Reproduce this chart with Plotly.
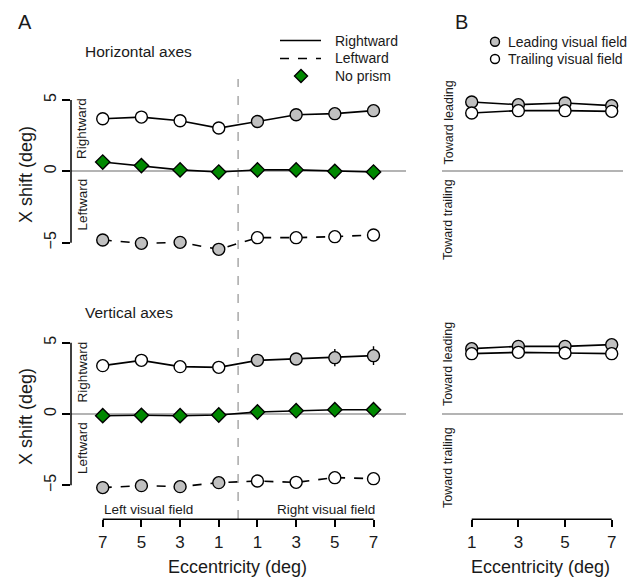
import plotly.graph_objects as go

# ---- data ---------------------------------------------------------------
ecc_positions = [0, 1, 2, 3, 4, 5, 6, 7]
ecc_labels = ["7", "5", "3", "1", "1", "3", "5", "7"]
field_fill = ["white"] * 4 + ["#c0c0c0"] * 4          # rightward prism: left field trailing, right field leading
field_fill_left = ["#c0c0c0"] * 4 + ["white"] * 4     # leftward prism: left field leading

h_rightward = [3.68, 3.80, 3.54, 3.03, 3.49, 3.96, 4.04, 4.25]
h_leftward = [-4.81, -5.05, -4.98, -5.47, -4.65, -4.65, -4.58, -4.46]
h_noprism = [0.65, 0.40, 0.10, -0.05, 0.10, 0.10, 0.00, -0.05]

v_rightward = [3.39, 3.76, 3.32, 3.27, 3.76, 3.86, 3.95, 4.09]
v_rightward_err = [0.30, 0.30, 0.30, 0.30, 0.35, 0.35, 0.60, 0.65]
v_leftward = [-5.16, -5.02, -5.09, -4.81, -4.70, -4.79, -4.46, -4.53]
v_noprism = [-0.12, -0.09, -0.12, -0.07, 0.14, 0.23, 0.30, 0.30]

ecc_b = [1, 3, 5, 7]
h_leading = [4.86, 4.67, 4.79, 4.60]
h_trailing = [4.09, 4.25, 4.25, 4.20]
v_leading = [4.58, 4.74, 4.74, 4.86]
v_trailing = [4.23, 4.32, 4.28, 4.23]

y_ticks = [-5, 0, 5]
y_ticktext = ["\u22125", "0", "5"]

# ---- styling ------------------------------------------------------------
W, H = 636, 580
FONT = "Liberation Sans, Arial, Helvetica, sans-serif"
INK = "#1a1a1a"
GRAY = "#c0c0c0"
GREEN = "#008800"
ZERO = "#b4b4b4"


def px(x, y):
    return x / W, 1 - y / H


def dom_x(a, b):
    return [a / W, b / W]


def dom_y(top, bottom):
    return [1 - bottom / H, 1 - top / H]


fig = go.Figure()


def series(x, y, fills, dash, xa, ya, symbol="circle", size=12, err=None):
    tr = dict(
        x=x, y=y, mode="lines+markers", xaxis=xa, yaxis=ya, showlegend=False,
        line=dict(color="black", width=1.6, dash=dash),
        marker=dict(symbol=symbol, size=size, color=fills,
                    line=dict(color="black", width=1.4)),
        cliponaxis=False, hoverinfo="skip",
    )
    if err is not None:
        tr["error_y"] = dict(type="data", array=err, visible=True,
                             color="black", thickness=1.4, width=0)
    fig.add_trace(go.Scatter(**tr))


# Panel A, horizontal axes
series(ecc_positions, h_rightward, field_fill, "solid", "x", "y")
series(ecc_positions, h_leftward, field_fill_left, "dash", "x", "y")
series(ecc_positions, h_noprism, GREEN, "solid", "x", "y", symbol="diamond", size=11)

# Panel A, vertical axes
series(ecc_positions, v_rightward, field_fill, "solid", "x2", "y2", err=v_rightward_err)
series(ecc_positions, v_leftward, field_fill_left, "dash", "x2", "y2")
series(ecc_positions, v_noprism, GREEN, "solid", "x2", "y2", symbol="diamond", size=11)

# Panel B
series(ecc_b, h_leading, GRAY, "solid", "x3", "y3")
series(ecc_b, h_trailing, "white", "solid", "x3", "y3")
series(ecc_b, v_leading, GRAY, "solid", "x4", "y4")
series(ecc_b, v_trailing, "white", "solid", "x4", "y4")

# Legend keys drawn on an overlay axis in pixel units
fig.add_trace(go.Scatter(
    x=[301], y=[76], mode="markers", xaxis="x5", yaxis="y5", showlegend=False,
    marker=dict(symbol="diamond", size=10, color=GREEN, line=dict(color="black", width=1.4)),
    hoverinfo="skip", cliponaxis=False))
fig.add_trace(go.Scatter(
    x=[495, 495], y=[41.7, 59], mode="markers", xaxis="x5", yaxis="y5", showlegend=False,
    marker=dict(symbol="circle", size=9, color=[GRAY, "white"], line=dict(color="black", width=1.4)),
    hoverinfo="skip", cliponaxis=False))

# ---- axes ---------------------------------------------------------------
left_x = dom_x(71, 406)
left_range = [-0.82, 7.84]
b_x = dom_x(441.7, 623.3)
b_range = [-0.286, 7.497]
top_y = dom_y(60, 255)
top_range = [-5.865, 7.80]
bot_y = dom_y(300, 519.3)
bot_range = [-7.38, 7.99]

hidden = dict(showgrid=False, showline=False, showticklabels=False, ticks="", zeroline=False)
yleft = dict(showgrid=False, showline=False, tickvals=y_ticks, ticktext=y_ticktext,
             ticks="outside", ticklen=8, tickwidth=1.5, tickcolor="black",
             tickangle=-90, ticklabelstandoff=0,
             tickfont=dict(family=FONT, size=16, color=INK),
             zeroline=True, zerolinecolor=ZERO, zerolinewidth=1.6)
yb = dict(showgrid=False, showline=False, showticklabels=False, ticks="",
          zeroline=True, zerolinecolor=ZERO, zerolinewidth=1.6)
xticks = dict(showgrid=False, showline=False, zeroline=False, ticks="outside",
              ticklen=7, tickwidth=1.5, tickcolor="black",
              tickfont=dict(family=FONT, size=17, color=INK))

fig.update_layout(
    width=W, height=H, margin=dict(l=0, r=0, t=0, b=0),
    paper_bgcolor="white", plot_bgcolor="rgba(0,0,0,0)",
    font=dict(family=FONT, color=INK),
    xaxis=dict(domain=left_x, range=left_range, anchor="y", **hidden),
    yaxis=dict(domain=top_y, range=top_range, anchor="x", **yleft),
    xaxis2=dict(domain=left_x, range=left_range, anchor="y2",
                tickvals=ecc_positions, ticktext=ecc_labels, **xticks),
    yaxis2=dict(domain=bot_y, range=bot_range, anchor="x2", **yleft),
    xaxis3=dict(domain=b_x, range=b_range, anchor="y3", **hidden),
    yaxis3=dict(domain=top_y, range=top_range, anchor="x3", **yb),
    xaxis4=dict(domain=b_x, range=b_range, anchor="y4",
                tickvals=ecc_b, ticktext=[str(v) for v in ecc_b], **xticks),
    yaxis4=dict(domain=bot_y, range=bot_range, anchor="x4", **yb),
    xaxis5=dict(domain=[0, 1], range=[0, W], anchor="y5", **hidden),
    yaxis5=dict(domain=[0, 1], range=[H, 0], anchor="x5", **hidden),
)

# ---- spines and dividers ------------------------------------------------
shapes = [
    dict(type="line", xref="x domain", x0=0, x1=0, yref="y", y0=-5, y1=5,
         line=dict(color="black", width=1.5)),
    dict(type="line", xref="x2 domain", x0=0, x1=0, yref="y2", y0=-5, y1=5,
         line=dict(color="black", width=1.5)),
    dict(type="line", xref="x2", x0=ecc_positions[0], x1=ecc_positions[-1],
         yref="y2 domain", y0=0, y1=0, line=dict(color="black", width=1.5)),
    dict(type="line", xref="x4", x0=ecc_b[0], x1=ecc_b[-1],
         yref="y4 domain", y0=0, y1=0, line=dict(color="black", width=1.5)),
    # boundary between left and right visual field
    dict(type="line", xref="x", x0=3.5, x1=3.5, yref="paper",
         y0=px(0, 519)[1], y1=px(0, 79)[1],
         line=dict(color="#a8a8a8", width=1.5, dash="dash"), layer="below"),
    # legend line keys
    dict(type="line", xref="paper", yref="paper", x0=px(280, 0)[0], x1=px(321, 0)[0],
         y0=px(0, 40.5)[1], y1=px(0, 40.5)[1], line=dict(color="black", width=1.6)),
    dict(type="line", xref="paper", yref="paper", x0=px(280, 0)[0], x1=px(321, 0)[0],
         y0=px(0, 58.5)[1], y1=px(0, 58.5)[1], line=dict(color="black", width=1.6, dash="dash")),
]
fig.update_layout(shapes=shapes)

# ---- text ---------------------------------------------------------------
def label(text, x, y, size, angle=0, xanchor="center"):
    ax, ay = px(x, y)
    fig.add_annotation(text=text, x=ax, y=ay, xref="paper", yref="paper",
                       showarrow=False, textangle=angle, xanchor=xanchor, yanchor="middle",
                       font=dict(family=FONT, size=size, color=INK))


label("A", 25, 22, 20)
label("B", 462, 22, 20)
label("Horizontal axes", 138, 52, 15.5)
label("Vertical axes", 129, 312, 15.5)

label("Rightward", 333, 40.7, 14, xanchor="left")
label("Leftward", 333, 58.3, 14, xanchor="left")
label("No prism", 333, 76, 14, xanchor="left")
label("Leading visual field", 506, 41.7, 14, xanchor="left")
label("Trailing visual field", 506, 59, 14, xanchor="left")

label("X shift (deg)", 26, 175, 18, angle=-90)
label("X shift (deg)", 26, 417, 18, angle=-90)
label("Rightward", 82, 129, 13.5, angle=-90)
label("Leftward", 82, 204.5, 13.5, angle=-90)
label("Rightward", 82, 372.5, 13.5, angle=-90)
label("Leftward", 82, 448, 13.5, angle=-90)

label("Toward leading", 448, 122.5, 12.5, angle=-90)
label("Toward trailing", 448, 219, 12.5, angle=-90)
label("Toward leading", 448, 364, 12.5, angle=-90)
label("Toward trailing", 448, 467, 12.5, angle=-90)

label("Left visual field", 148.5, 509, 13.5)
label("Right visual field", 325.5, 509, 13.5)

label("Eccentricity (deg)", 237.5, 567, 18)
label("Eccentricity (deg)", 540.5, 567, 18)

fig.write_html("out.html")
